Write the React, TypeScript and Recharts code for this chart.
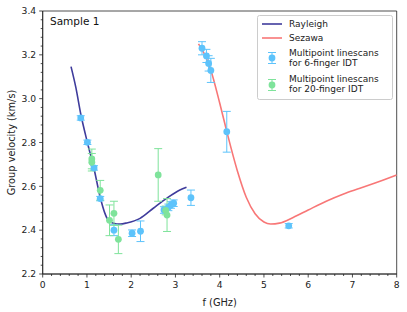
import React from "react";
import {
  ComposedChart,
  Line,
  Scatter,
  ErrorBar,
  XAxis,
  YAxis,
  ReferenceArea,
  Legend,
} from "recharts";

// dispersion curves (f in GHz, group velocity in km/s)
const rayleighF = [0.64, 0.75, 0.86, 1.01, 1.16, 1.3, 1.4, 1.48, 1.6, 1.75, 1.9, 2.2, 2.5, 2.8, 3.1, 3.25];
const rayleighV = [3.146, 3.05, 2.93, 2.8, 2.68, 2.55, 2.48, 2.446, 2.432, 2.428, 2.433, 2.454, 2.5, 2.545, 2.583, 2.596];

const sezawaF = [3.52, 3.6, 3.8, 4.0, 4.16, 4.4, 4.6, 4.8, 5.0, 5.15, 5.35, 5.66, 6.0, 6.42, 6.8, 7.17, 7.7, 8.0];
const sezawaV = [3.25, 3.225, 3.13, 2.98, 2.85, 2.67, 2.55, 2.475, 2.437, 2.428, 2.432, 2.458, 2.492, 2.533, 2.565, 2.591, 2.629, 2.652];

// multipoint linescans, 6-finger IDT
const sixF = [0.86, 1.01, 1.16, 1.3, 1.61, 2.02, 2.21, 2.74, 2.84, 2.9, 2.96, 3.35, 3.6, 3.7, 3.75, 3.8, 4.16, 5.56];
const sixV = [2.912, 2.801, 2.684, 2.544, 2.4, 2.386, 2.395, 2.492, 2.504, 2.515, 2.523, 2.548, 3.23, 3.195, 3.161, 3.129, 2.849, 2.42];
const sixErr = [0.01, 0.01, 0.01, 0.01, 0.025, 0.015, 0.047, 0.015, 0.015, 0.015, 0.015, 0.035, 0.03, 0.03, 0.035, 0.055, 0.093, 0.01];

// multipoint linescans, 20-finger IDT
const twentyF = [1.11, 1.11, 1.3, 1.51, 1.61, 1.71, 2.61, 2.78, 2.81];
const twentyV = [2.725, 2.71, 2.582, 2.445, 2.477, 2.358, 2.652, 2.49, 2.469];
const twentyErr = [0.045, 0.04, 0.045, 0.07, 0.055, 0.065, 0.12, 0.02, 0.075];

const xTicks = Array.from({ length: 41 }, (_, i) => +(i * 0.2).toFixed(1));
const yTicks = Array.from({ length: 31 }, (_, i) => +(2.2 + i * 0.04).toFixed(2));

const RAY = "#3f3c9c";
const SEZ = "#f87777";
const BLUE = "#5dc3fb";
const GREEN = "#7fe39b";
const INK = "#222";
const FONT = "'DejaVu Sans', sans-serif";

const rayleigh = rayleighF.map((f, i) => ({ f, v: rayleighV[i] }));
const sezawa = sezawaF.map((f, i) => ({ f, v: sezawaV[i] }));
const six = sixF.map((f, i) => ({ f, v: sixV[i], err: sixErr[i] }));
const twenty = twentyF.map((f, i) => ({ f, v: twentyV[i], err: twentyErr[i] }));

const XTick = (props: any) => {
  const { x, y, payload } = props;
  const v = payload.value;
  const major = Math.abs(v - Math.round(v)) < 1e-6;
  return (
    <g>
      <line x1={x} x2={x} y1={y} y2={y + (major ? 3.5 : 2)} stroke={INK} strokeWidth={0.8} />
      {major && (
        <text x={x} y={y + 14} textAnchor="middle" fontSize={9.2} fill={INK} fontFamily={FONT}>
          {Math.round(v)}
        </text>
      )}
    </g>
  );
};

const YTick = (props: any) => {
  const { x, y, payload } = props;
  const v = payload.value;
  const major = Math.abs(v * 5 - Math.round(v * 5)) < 1e-6;
  return (
    <g>
      <line x1={x} x2={x - (major ? 3.5 : 2)} y1={y} y2={y} stroke={INK} strokeWidth={0.8} />
      {major && (
        <text x={x - 6.5} y={y + 3.3} textAnchor="end" fontSize={9.2} fill={INK} fontFamily={FONT}>
          {v.toFixed(1)}
        </text>
      )}
    </g>
  );
};

const Dot = (color: string) => (props: any) => {
  const { cx, cy } = props;
  return <circle cx={cx} cy={cy} r={3.4} fill={color} />;
};

const LegendBox = () => {
  const t = { fontSize: 9, fill: INK, fontFamily: FONT };
  const marker = (cy: number, color: string) => (
    <g stroke={color} strokeWidth={1}>
      <line x1={15} x2={15} y1={cy - 5.5} y2={cy + 5.5} />
      <line x1={11} x2={19} y1={cy - 5.5} y2={cy - 5.5} />
      <line x1={11} x2={19} y1={cy + 5.5} y2={cy + 5.5} />
      <circle cx={15} cy={cy} r={3.4} fill={color} stroke="none" />
    </g>
  );
  return (
    <svg width={136} height={85}>
      <rect x={0.5} y={0.5} width={135} height={84} rx={2} fill="#fff" fillOpacity={0.8} stroke="#ccc" strokeWidth={1} />
      <line x1={5} x2={25} y1={9} y2={9} stroke={RAY} strokeWidth={1.6} />
      <text x={32} y={12.2} {...t}>Rayleigh</text>
      <line x1={5} x2={25} y1={23} y2={23} stroke={SEZ} strokeWidth={1.6} />
      <text x={32} y={26.2} {...t}>Sezawa</text>
      {marker(43, BLUE)}
      <text x={32} y={41.2} {...t}>Multipoint linescans</text>
      <text x={32} y={51.2} {...t}>for 6-finger IDT</text>
      {marker(70, GREEN)}
      <text x={32} y={67.2} {...t}>Multipoint linescans</text>
      <text x={32} y={77.2} {...t}>for 20-finger IDT</text>
    </svg>
  );
};

export default function App() {
  return (
    <div style={{ position: "absolute", left: 0, top: 0, width: 407, height: 312, background: "#fff", fontFamily: FONT }}>
      <ComposedChart width={407} height={312} margin={{ top: 11, right: 10.3, bottom: 0, left: 0 }}>
        <XAxis
          type="number"
          dataKey="f"
          domain={[0, 8]}
          ticks={xTicks}
          interval={0}
          height={38}
          tickSize={0}
          tickMargin={0}
          tickLine={false}
          tick={<XTick />}
          axisLine={{ stroke: INK, strokeWidth: 0.8 }}
          allowDataOverflow
          label={{ value: "f (GHz)", position: "insideBottom", offset: 6, style: { fontSize: 9.8, fill: INK, fontFamily: FONT } }}
        />
        <YAxis
          type="number"
          dataKey="v"
          domain={[2.2, 3.4]}
          ticks={yTicks}
          interval={0}
          width={42.7}
          tickSize={0}
          tickMargin={0}
          tickLine={false}
          tick={<YTick />}
          axisLine={{ stroke: INK, strokeWidth: 0.8 }}
          allowDataOverflow
          label={{
            value: "Group velocity (km/s)",
            angle: -90,
            position: "insideLeft",
            offset: 12,
            style: { textAnchor: "middle", fontSize: 9.8, fill: INK, fontFamily: FONT },
          }}
        />
        <ReferenceArea x1={0} x2={8} y1={2.2} y2={3.4} fill="none" stroke={INK} strokeWidth={0.8} />
        <Line data={rayleigh} dataKey="v" type="monotone" stroke={RAY} strokeWidth={1.6} dot={false} isAnimationActive={false} />
        <Line data={sezawa} dataKey="v" type="monotone" stroke={SEZ} strokeWidth={1.6} dot={false} isAnimationActive={false} />
        <Scatter data={six} shape={Dot(BLUE)} isAnimationActive={false}>
          <ErrorBar dataKey="err" direction="y" width={4} stroke={BLUE} strokeWidth={1} />
        </Scatter>
        <Scatter data={twenty} shape={Dot(GREEN)} isAnimationActive={false}>
          <ErrorBar dataKey="err" direction="y" width={4} stroke={GREEN} strokeWidth={1} />
        </Scatter>
        <Legend
          layout="vertical"
          align="center"
          verticalAlign="middle"
          content={<LegendBox />}
          wrapperStyle={{ position: "absolute", left: 256.5, top: 14.5, width: 136, height: 85 }}
        />
      </ComposedChart>
      <div style={{ position: "absolute", left: 50, top: 15, fontSize: 10.5, color: "#111", fontFamily: FONT }}>Sample 1</div>
    </div>
  );
}
